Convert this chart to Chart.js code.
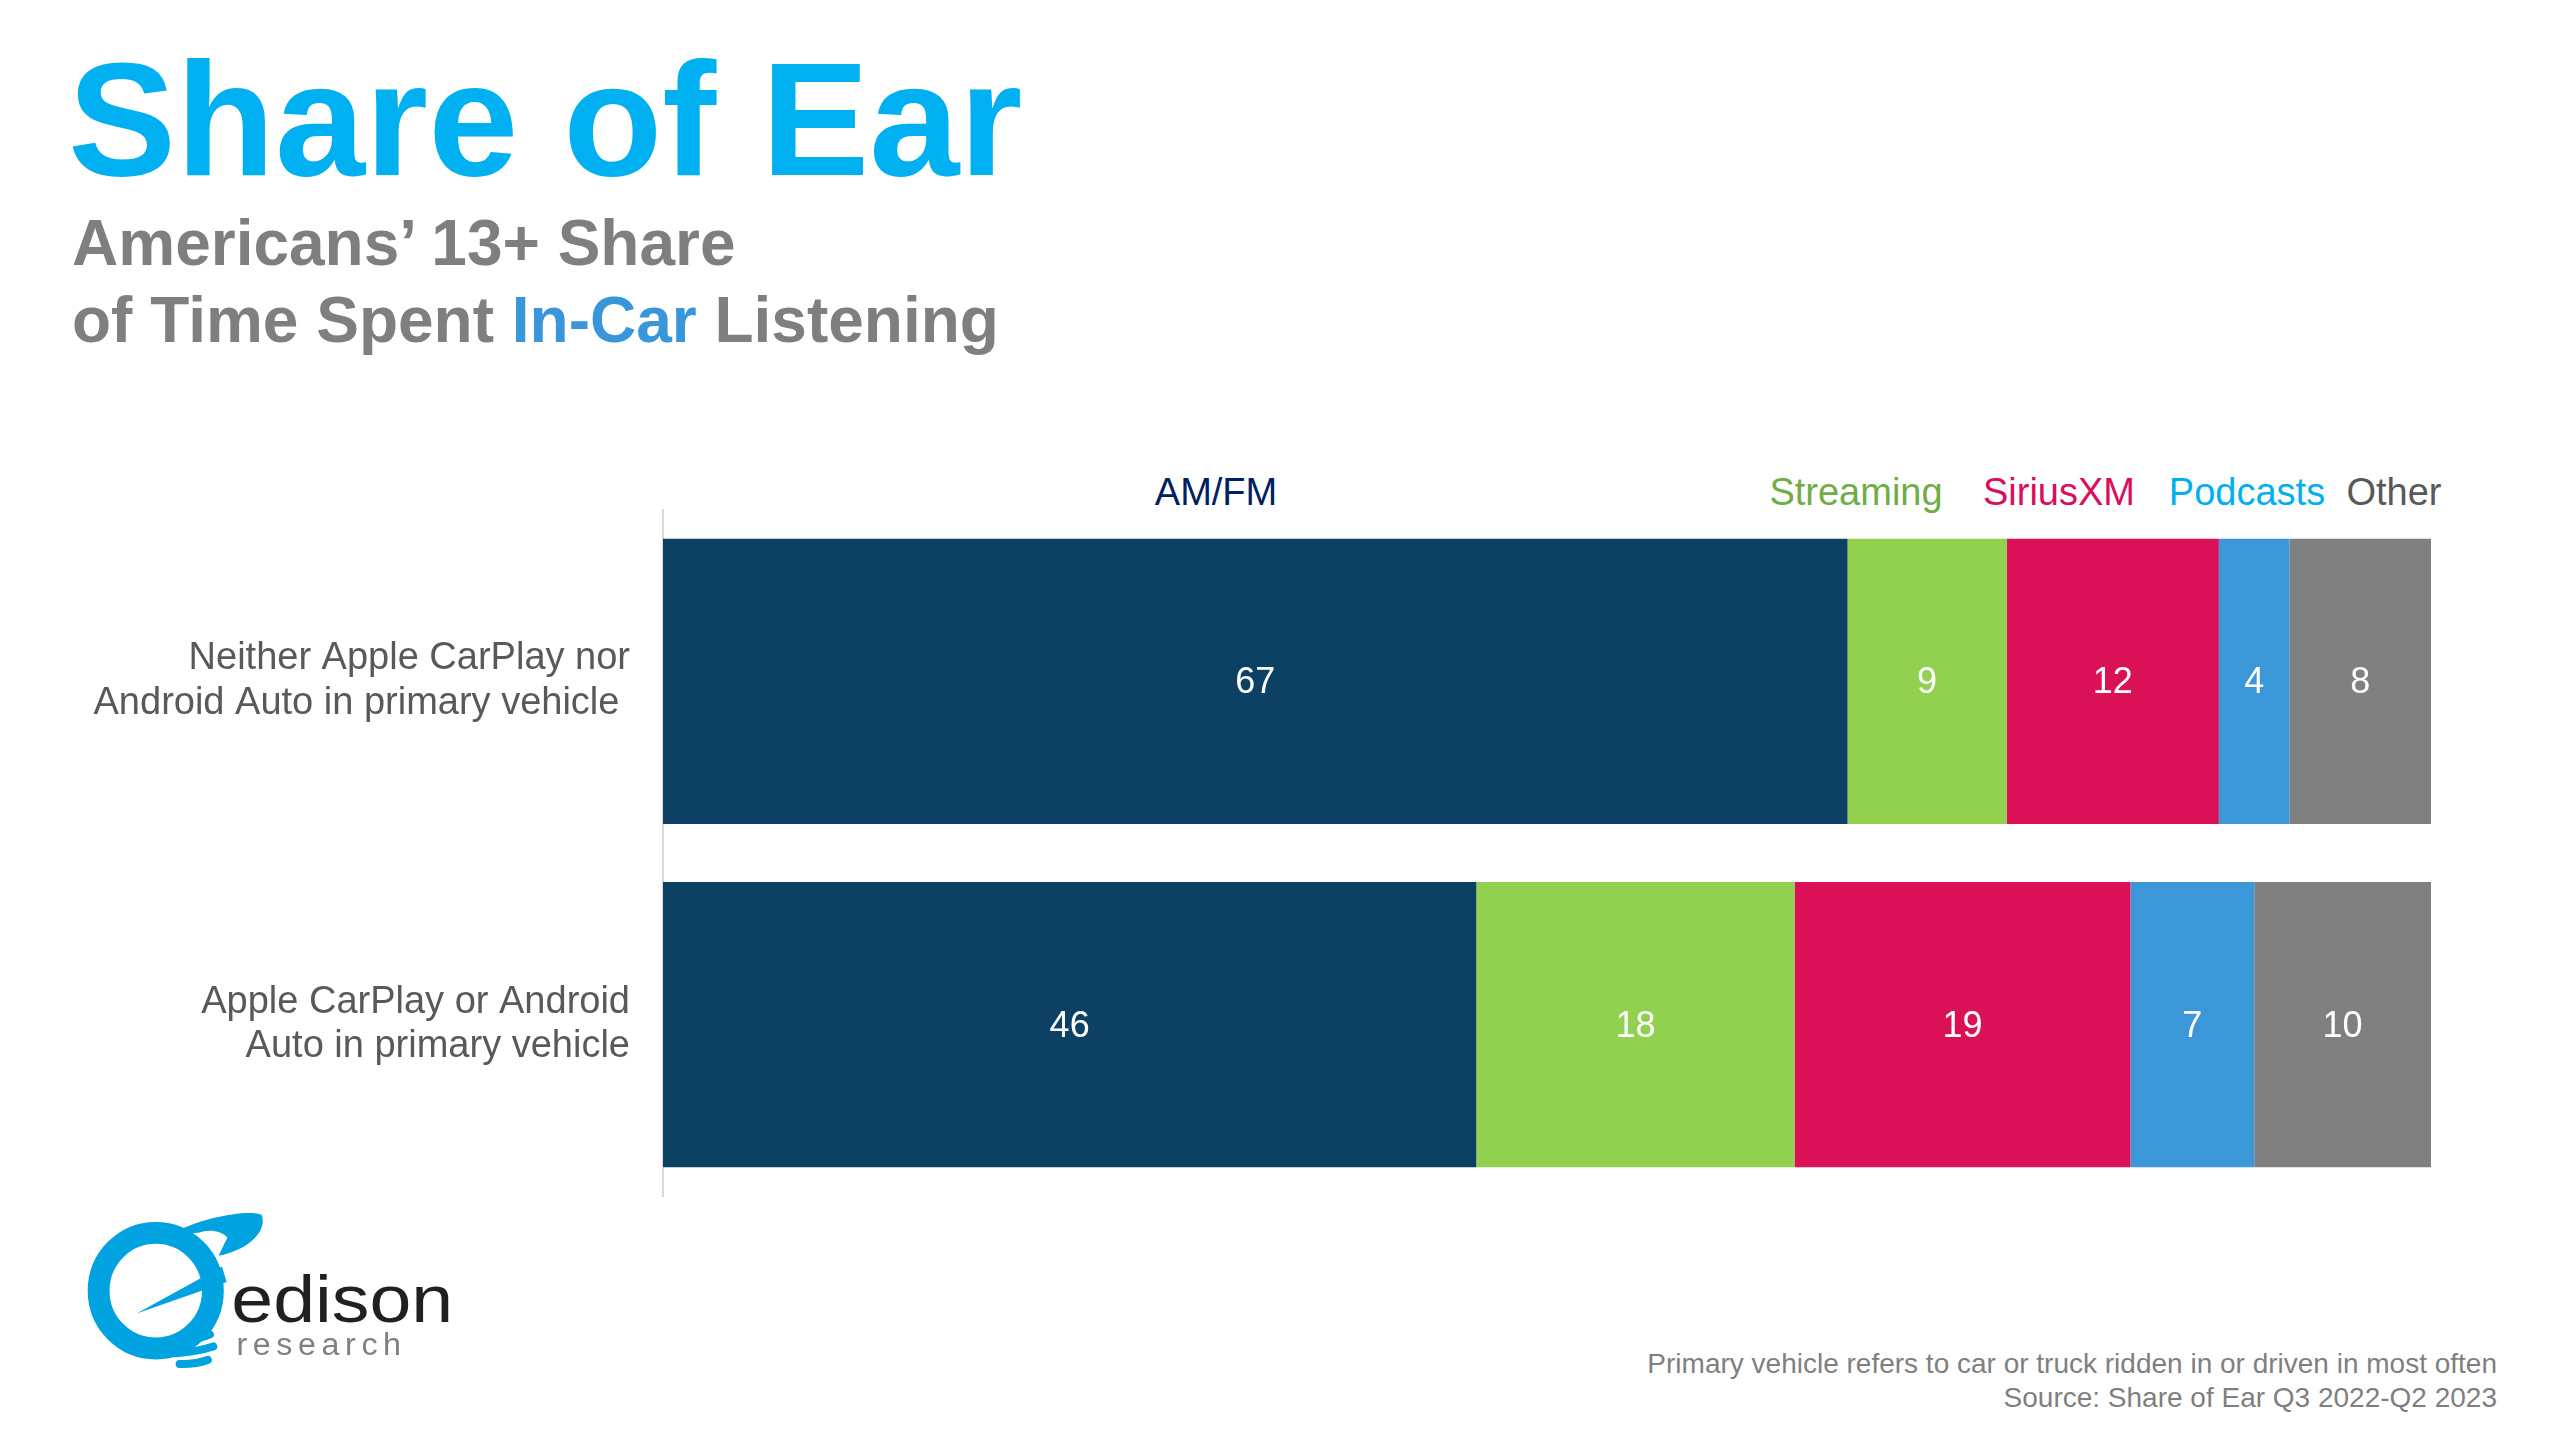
<!DOCTYPE html>
<html lang="en">
<head>
    <meta charset="UTF-8">
    <title>Share of Ear</title>
    <script src="https://cdn.jsdelivr.net/npm/chart.js"></script>
    <style>
        * {
            margin: 0;
            padding: 0;
            box-sizing: border-box;
        }
        html, body {
            width: 2560px;
            height: 1440px;
            overflow: hidden;
            background: #fff;
            font-family: "Liberation Sans", Arial, sans-serif;
        }
        .abs {
            position: absolute;
            line-height: 1;
            white-space: nowrap;
        }
        #title {
            left: 68px;
            top: 38px;
            font-size: 162px;
            font-weight: bold;
            color: #00B0F0;
        }
        .sub {
            left: 72px;
            font-size: 64px;
            font-weight: bold;
            color: #7F7F7F;
        }
        .sub span {
            color: #3A96DA;
        }
        .legend {
            top: 473px;
            font-size: 38px;
            transform: translateX(-50%);
        }
        .foot {
            right: 63px;
            font-size: 28px;
            color: #7F7F7F;
        }
        /* 画布比绘图区高：上下各留出 y 轴标签的内边距 */
        .chart-container {
            position: absolute;
            left: 0;
            top: 432px;
            width: 2431px;
            height: 842px;
        }
        #logo {
            position: absolute;
            left: 60px;
            top: 1210px;
            width: 420px;
            height: 200px;
        }
    </style>
</head>
<body>

    <div id="title" class="abs">Share of Ear</div>
    <div class="abs sub" style="top:211px">Americans’ 13+ Share</div>
    <div class="abs sub" style="top:288px">of Time Spent <span>In-Car</span> Listening</div>

    <!-- series names above the bars -->
    <div class="abs legend" style="left:1216px; color:#002060">AM/FM</div>
    <div class="abs legend" style="left:1856px; color:#70AD47">Streaming</div>
    <div class="abs legend" style="left:2059px; color:#DC0D5A">SiriusXM</div>
    <div class="abs legend" style="left:2247px; color:#00B0F0">Podcasts</div>
    <div class="abs legend" style="left:2394px; color:#595959">Other</div>

    <div class="chart-container">
        <canvas id="myChart"></canvas>
    </div>

    <svg id="logo" viewBox="0 0 1250 595" preserveAspectRatio="none">
        <ellipse cx="285" cy="240" rx="170" ry="172" fill="none" stroke="#00A3E0" stroke-width="65"/>
        <path d="M 330 72 C 420 22, 560 -2, 600 14 C 618 60, 565 118, 472 136 L 498 82 C 480 62, 445 56, 412 68 Z" fill="#00A3E0"/>
        <path d="M 228 308 L 482 168 L 496 214 Z" fill="#00A3E0"/>
        <path d="M 362 392 Q 420 382 446 370" stroke="#00A3E0" stroke-width="24" stroke-linecap="round" fill="none"/>
        <path d="M 346 426 Q 410 421 456 406" stroke="#00A3E0" stroke-width="24" stroke-linecap="round" fill="none"/>
        <path d="M 356 458 Q 400 460 440 446" stroke="#00A3E0" stroke-width="24" stroke-linecap="round" fill="none"/>
        <text x="510" y="333" font-family="Liberation Sans, Arial" font-size="200" fill="#231F20" textLength="660" lengthAdjust="spacingAndGlyphs">edison</text>
        <text x="525" y="430" font-family="Liberation Sans, Arial" font-size="96" fill="#808080" textLength="490">research</text>
    </svg>

    <div class="abs foot" style="top:1350px">Primary vehicle refers to car or truck ridden in or driven in most often</div>
    <div class="abs foot" style="top:1384px">Source: Share of Ear Q3 2022-Q2 2023</div>

    <script>
        // 数据
        var categories = [
            ['Neither Apple CarPlay nor', 'Android Auto in primary vehicle '],
            ['Apple CarPlay or Android', 'Auto in primary vehicle']
        ];
        var seriesNames = ['AM/FM', 'Streaming', 'SiriusXM', 'Podcasts', 'Other'];
        var amfm = [67, 46];
        var streaming = [9, 18];
        var siriusxm = [12, 19];
        var podcasts = [4, 7];
        var other = [8, 10];
        var colors = ['#0D4163', '#92D050', '#DA1157', '#3C97D8', '#808080'];

        var seriesValues = [amfm, streaming, siriusxm, podcasts, other];

        // 在每段中间写数值
        var barLabels = {
            id: 'barLabels',
            afterDatasetsDraw: function(chart) {
                var ctx = chart.ctx;
                ctx.save();
                ctx.fillStyle = '#FFFFFF';
                ctx.font = '36px "Liberation Sans", Arial, sans-serif';
                ctx.textAlign = 'center';
                ctx.textBaseline = 'middle';
                chart.data.datasets.forEach(function(dataset, i) {
                    var meta = chart.getDatasetMeta(i);
                    meta.data.forEach(function(bar, j) {
                        var cx = (bar.x + bar.base) / 2;
                        ctx.fillText(dataset.data[j], cx, bar.y + 2);
                    });
                });
                ctx.restore();
            }
        };

        var datasets = [];
        for (var i = 0; i < seriesNames.length; i++) {
            datasets.push({
                label: seriesNames[i],
                data: seriesValues[i],
                backgroundColor: colors[i],
                borderWidth: 0,
                categoryPercentage: 1.0,
                barPercentage: 0.831
            });
        }

        var ctx = document.getElementById('myChart').getContext('2d');
        var myChart = new Chart(ctx, {
            type: 'bar',
            data: {
                labels: categories,
                datasets: datasets
            },
            options: {
                indexAxis: 'y',
                responsive: true,
                maintainAspectRatio: false,
                animation: false,
                layout: { padding: 0 },
                scales: {
                    x: {
                        stacked: true,
                        min: 0,
                        max: 100,
                        display: false
                    },
                    y: {
                        stacked: true,
                        grid: { display: false, drawTicks: false },
                        border: { display: true, color: '#D9D9D9', width: 2 },
                        ticks: {
                            color: '#595959',
                            padding: 33,
                            font: { family: '"Liberation Sans", Arial, sans-serif', size: 38, lineHeight: 1.18 }
                        },
                        afterFit: function(scale) {
                            scale.width = 663;  // 让绘图区从 663px 开始
                        }
                    }
                },
                plugins: {
                    legend: { display: false },
                    tooltip: { enabled: false }
                }
            },
            plugins: [barLabels]
        });
    </script>
</body>
</html>
